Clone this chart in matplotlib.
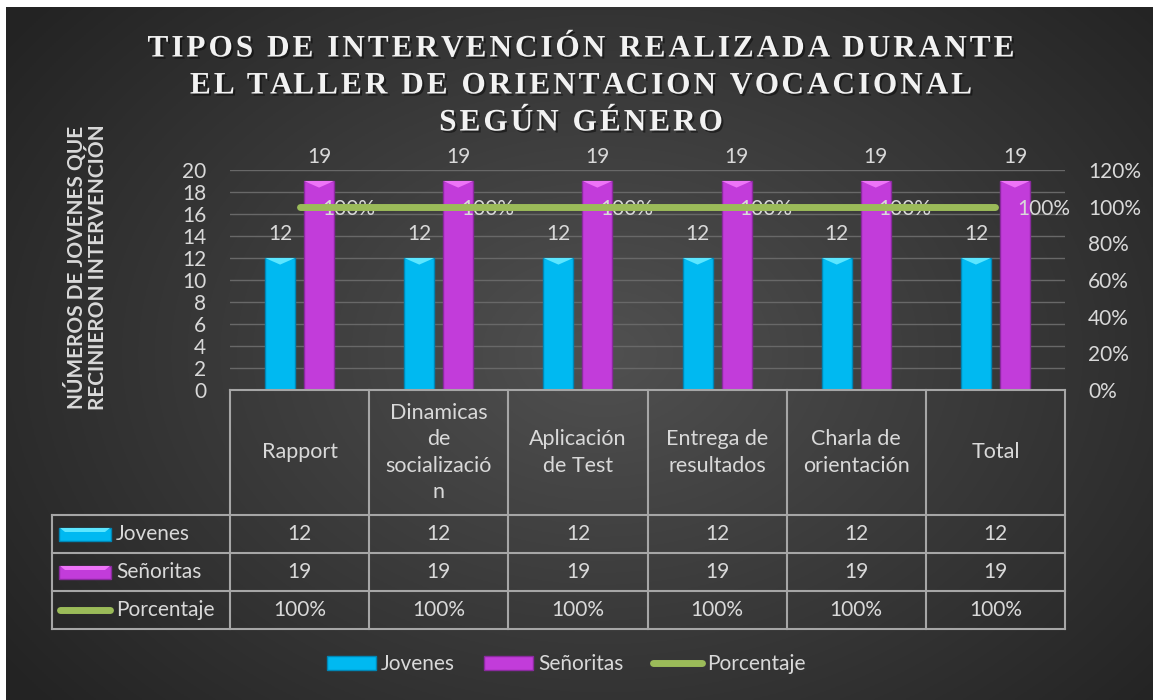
import numpy as np
import matplotlib.pyplot as plt
import matplotlib.patheffects as pe
from matplotlib.patches import Rectangle, Polygon, Patch
from matplotlib.lines import Line2D
from matplotlib.ticker import PercentFormatter
from matplotlib.font_manager import FontProperties

# datos
categorias = ["Rapport", "Dinamicas\nde\nsocializació\nn", "Aplicación\nde Test",
              "Entrega de\nresultados", "Charla de\norientación", "Total"]
jovenes = [12, 12, 12, 12, 12, 12]
senoritas = [19, 19, 19, 19, 19, 19]
porcentaje = [1.0, 1.0, 1.0, 1.0, 1.0, 1.0]
series = ["Jovenes", "Señoritas", "Porcentaje"]
titulo = ["TIPOS DE INTERVENCIÓN REALIZADA DURANTE",
          "EL TALLER DE ORIENTACION VOCACIONAL",
          "SEGÚN GÉNERO"]
etiqueta_y = "NÚMEROS DE JOVENES QUE\nRECINIERON INTERVENCIÓN"

CIAN, CIAN_CLARO, CIAN_BORDE = "#00B9F1", "#5CE6FF", "#0086B5"
MAGENTA, MAGENTA_CLARO, MAGENTA_BORDE = "#C23CDA", "#EE74F8", "#8A2A9E"
VERDE = "#9BBB59"
TEXTO = "#D9D9D9"
LINEA_TABLA = "#A6A6A6"
FUENTE = ["Lato", "DejaVu Sans"]

W, H = 1153, 700
fig = plt.figure(figsize=(W / 100, H / 100), dpi=100, facecolor="white")


def fx(px):
    return px / W


def fy(py):
    return 1 - py / H


# fondo con degradado radial
bg = fig.add_axes([fx(6), 0, 1 - fx(6), 1 - 7 / H])
yy, xx = np.mgrid[0:1:350j, 0:1:575j]
r = np.sqrt(((xx - 0.52) / 0.62) ** 2 + ((yy - 0.5) / 0.75) ** 2)
v = np.clip(0.315 - 0.17 * r, 0.14, 0.32)
bg.imshow(np.dstack([v, v, v]), aspect="auto", extent=(0, 1, 0, 1))
bg.set_axis_off()

# area del grafico
izq, der, arriba, abajo = 230, 1065, 170, 390
ax = fig.add_axes([fx(izq), fy(abajo), fx(der) - fx(izq), fy(arriba) - fy(abajo)])
ax.set_facecolor("none")
x = np.arange(len(categorias))
ax.set_xlim(-0.5, len(categorias) - 0.5)
ax.set_ylim(0, 20)
ax.set_yticks(range(0, 21, 2))
ax.set_xticks([])
ax.grid(axis="y", color="#686868", linewidth=1)
ax.set_axisbelow(True)
for s in ax.spines.values():
    s.set_visible(False)
ax.tick_params(axis="y", length=0, pad=17, labelsize=15, labelcolor=TEXTO)
for t in ax.get_yticklabels():
    t.set_family(FUENTE)

ancho, desp = 0.215, 0.14
b1 = ax.bar(x - desp, jovenes, ancho, color=CIAN, edgecolor=CIAN_BORDE, linewidth=1, zorder=3)
b2 = ax.bar(x + desp, senoritas, ancho, color=MAGENTA, edgecolor=MAGENTA_BORDE, linewidth=1, zorder=3)

# biselado superior de las barras
for barras, claro in [(b1, CIAN_CLARO), (b2, MAGENTA_CLARO)]:
    for p in barras:
        x0, w, h = p.get_x(), p.get_width(), p.get_height()
        ax.add_patch(Polygon([(x0, h), (x0 + w, h), (x0 + w * 0.5, h - 0.6)],
                             closed=True, facecolor=claro, edgecolor="none", zorder=4))
        ax.annotate(f"{h:g}", (x0 + w / 2, h), xytext=(0, 17), textcoords="offset points",
                    ha="center", va="center", fontsize=15, color=TEXTO, family=FUENTE)

ax2 = ax.twinx()
ax2.set_ylim(0, 1.2)
ax2.set_yticks(np.arange(0, 1.21, 0.2))
ax2.yaxis.set_major_formatter(PercentFormatter(1.0, decimals=0))
for s in ax2.spines.values():
    s.set_visible(False)
ax2.tick_params(axis="y", length=0, pad=16.5, labelsize=15, labelcolor=TEXTO)
for t in ax2.get_yticklabels():
    t.set_family(FUENTE)
ax2.plot(x, porcentaje, color=VERDE, linewidth=5, solid_capstyle="round", zorder=5)
for xi, p in zip(x, porcentaje):
    ax2.annotate(f"{p:.0%}", (xi, p), xytext=(16, -1.5), textcoords="offset points",
                 ha="left", va="center", fontsize=15, color=TEXTO, family=FUENTE)

# titulo con espaciado entre letras
prop_tit = FontProperties(family="Liberation Serif", weight="bold", size=22.5)
rend = fig.canvas.get_renderer()


def ancho_px(s):
    return rend.get_text_width_height_descent(s, prop_tit, ismath=False)[0]


ref = ancho_px("|")
ancho_obj = 867
espacio = (ancho_obj - ancho_px(titulo[0])) / (len(titulo[0]) - 1)
sombra = [pe.SimplePatchShadow(offset=(1.5, -1.5), shadow_rgbFace="black", alpha=0.45), pe.Normal()]
for linea, base in zip(titulo, [56.5, 93.5, 130.5]):
    total = ancho_px(linea) + espacio * (len(linea) - 1)
    x_ini = 581 - total / 2
    for i, ch in enumerate(linea):
        if ch == " ":
            continue
        xi = x_ini + (ancho_px(linea[:i] + "|") - ref if i else 0) + espacio * i
        fig.text(fx(xi), fy(base), ch, ha="left", va="baseline", fontproperties=prop_tit,
                 color="#F2F2F2", path_effects=sombra)

fig.text(fx(86), fy(267), etiqueta_y, rotation=90, ha="center", va="center",
         fontsize=15, fontweight="bold", family=FUENTE, color=TEXTO, linespacing=1.0)

# tabla de datos
tab = fig.add_axes([0, 0, 1, 1])
tab.set_xlim(0, W)
tab.set_ylim(H, 0)
tab.set_axis_off()
tab.patch.set_alpha(0)
col = (der - izq) / len(categorias)
filas = [515, 553, 591, 629]
izq_tabla = 52
kw = dict(color=LINEA_TABLA, linewidth=1.5)
tab.plot([izq, der], [abajo, abajo], **kw)
for fy_ in filas:
    tab.plot([izq_tabla, der], [fy_, fy_], **kw)
for k in range(len(categorias) + 1):
    tab.plot([izq + k * col] * 2, [abajo, filas[-1]], **kw)
tab.plot([izq_tabla] * 2, [filas[0], filas[-1]], **kw)

for k, c in enumerate(categorias):
    tab.text(izq + (k + 0.5) * col, (abajo + filas[0]) / 2, c, ha="center", va="center",
             fontsize=15.5, color=TEXTO, family=FUENTE, linespacing=1.4)

valores = [[f"{v:g}" for v in jovenes], [f"{v:g}" for v in senoritas],
           [f"{v:.0%}" for v in porcentaje]]
for i, (nombre, fila) in enumerate(zip(series, valores)):
    yc = (filas[i] + filas[i + 1]) / 2
    for k, txt in enumerate(fila):
        tab.text(izq + (k + 0.5) * col, yc, txt, ha="center", va="center",
                 fontsize=15, color=TEXTO, family=FUENTE)
    if i < 2:
        color, claro, borde = [(CIAN, CIAN_CLARO, CIAN_BORDE), (MAGENTA, MAGENTA_CLARO, MAGENTA_BORDE)][i]
        tab.add_patch(Rectangle((59, yc - 6.5), 52, 13, facecolor=color, edgecolor=borde, linewidth=1))
        tab.add_patch(Polygon([(60, yc - 6), (110, yc - 6), (105, yc - 2), (65, yc - 2)],
                              facecolor=claro, edgecolor="none"))
    else:
        tab.plot([60, 110], [yc, yc], color=VERDE, linewidth=5, solid_capstyle="round")
    tab.text(116, yc, nombre, ha="left", va="center", fontsize=15, color=TEXTO, family=FUENTE)

# leyenda inferior
handles = [Patch(facecolor=CIAN, edgecolor=CIAN_BORDE),
           Patch(facecolor=MAGENTA, edgecolor=MAGENTA_BORDE),
           Line2D([], [], color=VERDE, linewidth=5, solid_capstyle="round")]
fig.legend(handles, series, loc="center", bbox_to_anchor=(fx(566), fy(664)), ncol=3,
           frameon=False, prop={"family": FUENTE, "size": 15}, labelcolor=TEXTO,
           handlelength=2.35, handleheight=0.65, handletextpad=0.25, columnspacing=1.4)

fig.savefig("out.png", dpi=100, facecolor=fig.get_facecolor())
